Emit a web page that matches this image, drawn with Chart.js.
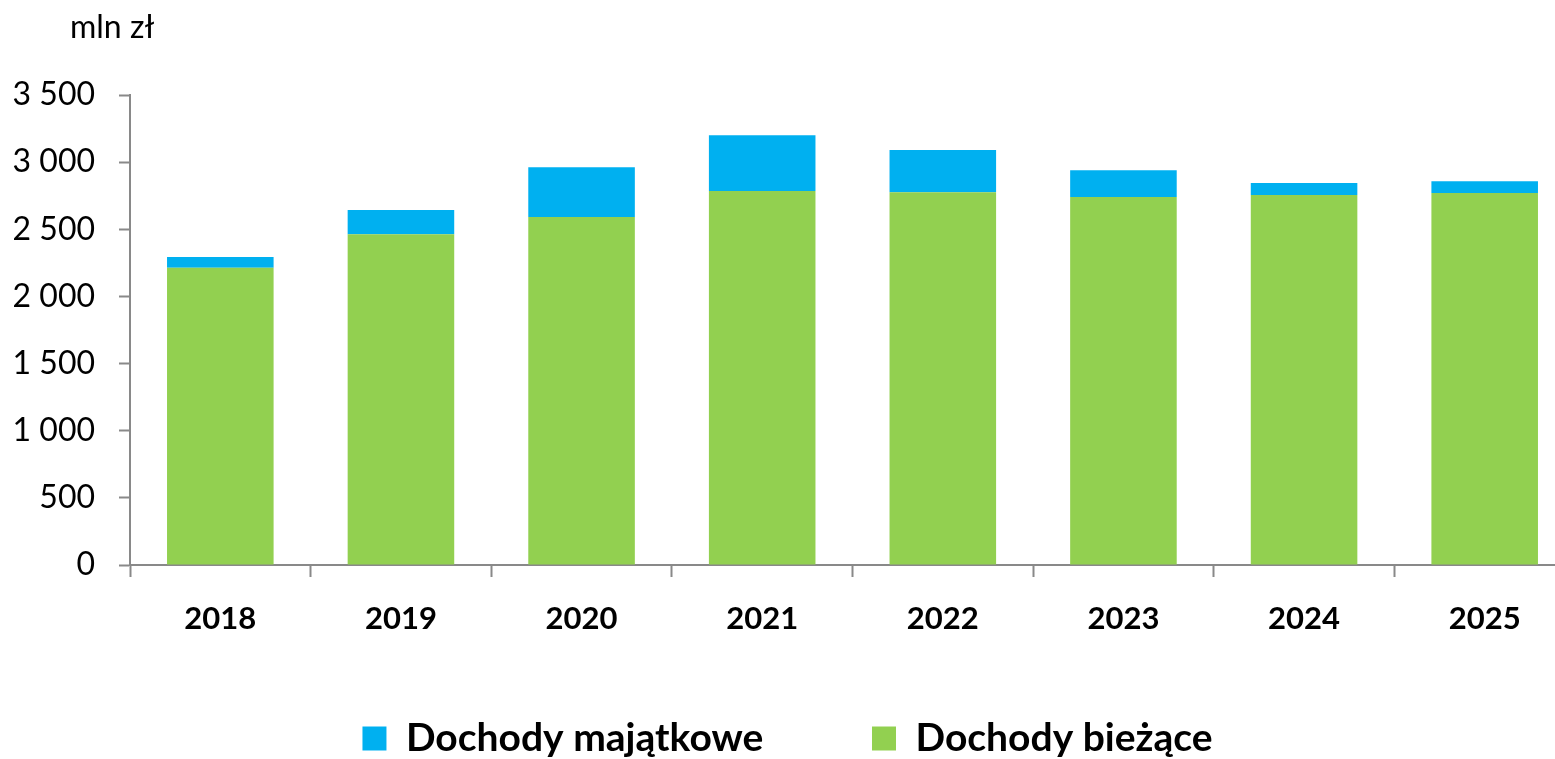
<!DOCTYPE html>
<html>
<head>
<meta charset="utf-8">
<script src="https://cdn.jsdelivr.net/npm/chart.js@4"></script>
<style>
  html, body { margin: 0; padding: 0; background: #fff; overflow: hidden; }
  #wrap { width: 1555px; height: 759px; overflow: hidden; position: relative; }
  #box { width: 1575px; height: 768px; }
</style>
</head>
<body>
<div id="wrap"><div id="box"><canvas id="barCanvas"></canvas></div></div>
<script>
// dane z wykresu (mln zł)
var years = ["2018", "2019", "2020", "2021", "2022", "2023", "2024", "2025"];
var biezace = [2214, 2463, 2591, 2785, 2775, 2740, 2755, 2770];
var majatkowe = [80, 181, 371, 415, 316, 199, 90, 87];
var yTicks = [0, 500, 1000, 1500, 2000, 2500, 3000, 3500];
var unitLabel = "mln zł";

var axisColor = "#898989";

document.addEventListener('DOMContentLoaded', function() {
    barChart();
});

function fmt(v) {
    return String(v).replace(/\B(?=(\d{3})+(?!\d))/g, " ");
}

function barChart() {
    var ctx = document.getElementById("barCanvas").getContext("2d");

    var unitPlugin = {
        id: 'unitLabel',
        afterDraw: function(chart) {
            var c = chart.ctx;
            c.save();
            c.font = "32px Lato";
            c.fillStyle = "#000";
            c.textAlign = "left";
            c.textBaseline = "alphabetic";
            c.fillText(unitLabel, 70, 38);
            c.restore();
        }
    };

    var data = {
        labels: years,
        datasets: [
            {
                label: "Dochody bieżące",
                data: biezace,
                backgroundColor: "#92D050",
                borderWidth: 0
            },
            {
                label: "Dochody majątkowe",
                data: majatkowe,
                backgroundColor: "#00B0F0",
                borderWidth: 0
            }
        ]
    };

    var options = {
        responsive: true,
        maintainAspectRatio: false,
        animation: false,
        layout: {
            padding: { top: 95, left: 0, right: 0, bottom: 0 }
        },
        datasets: {
            bar: { barPercentage: 0.59, categoryPercentage: 1 }
        },
        plugins: {
            legend: {
                position: 'bottom',
                labels: {
                    boxWidth: 24,
                    boxHeight: 24,
                    padding: 60,
                    color: "#000",
                    font: { family: "Lato", size: 39, weight: "bold" },
                    sort: function(a, b) { return b.datasetIndex - a.datasetIndex; },
                    generateLabels: function(chart) {
                        var items = Chart.defaults.plugins.legend.labels.generateLabels(chart);
                        items.forEach(function(it) {
                            // wider gap after the first entry
                            if (it.datasetIndex === 1) it.text = it.text + "\u2003\u2002";
                        });
                        return items;
                    }
                }
            },
            tooltip: { enabled: false }
        },
        scales: {
            x: {
                stacked: true,
                grid: {
                    display: true,
                    drawOnChartArea: false,
                    drawTicks: true,
                    tickLength: 12,
                    tickWidth: 2,
                    color: axisColor,
                    offset: true
                },
                border: { color: axisColor, width: 2 },
                ticks: {
                    color: "#000",
                    padding: 23,
                    font: { family: "Lato", size: 31, weight: "bold" }
                },
                afterFit: function(scale) { scale.height = 94; }
            },
            y: {
                stacked: true,
                min: 0,
                max: 3500,
                grid: {
                    display: true,
                    drawOnChartArea: false,
                    drawTicks: true,
                    tickLength: 11,
                    tickWidth: 2,
                    color: axisColor
                },
                border: { color: axisColor, width: 2 },
                afterBuildTicks: function(scale) {
                    scale.ticks = yTicks.map(function(v) { return { value: v }; });
                },
                ticks: {
                    color: "#000",
                    padding: 24,
                    font: { family: "Lato", size: 32 },
                    callback: function(v) { return fmt(v); }
                },
                afterFit: function(scale) { scale.width = 130; }
            }
        }
    };

    new Chart(ctx, {
        type: 'bar',
        data: data,
        options: options,
        plugins: [unitPlugin]
    });
}
</script>
</body>
</html>
